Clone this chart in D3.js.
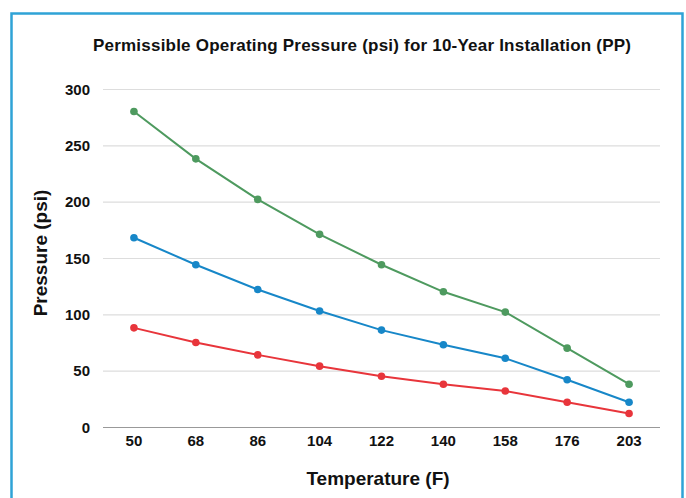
<!DOCTYPE html>
<html lang="en">
<head>
<meta charset="utf-8">
<title>Permissible Operating Pressure</title>
<script src="https://cdn.jsdelivr.net/npm/d3@7"></script>
<style>
  body { margin: 0; background: #fff; }
  svg text { font-family: "Liberation Sans", Arial, Helvetica, sans-serif; font-weight: bold; fill: #111; }
</style>
</head>
<body>
<svg id="chart" width="686" height="498"></svg>
<script>
// chart values
var temperatures = ['50', '68', '86', '104', '122', '140', '158', '176', '203'];
var greenSeries = [280, 238, 202, 171, 144, 120, 102, 70, 38];
var blueSeries = [168, 144, 122, 103, 86, 73, 61, 42, 22];
var redSeries = [88, 75, 64, 54, 45, 38, 32, 22, 12];
var yTicks = [0, 50, 100, 150, 200, 250, 300];

var series = [
  {values: greenSeries, color: '#4e9a5f'},
  {values: blueSeries, color: '#1787c8'},
  {values: redSeries, color: '#e8353b'}
];

var svg = d3.select('#chart');
// plot box (named so as not to clash with window.top)
var plotLeft = 103, plotRight = 660, plotTop = 89, plotBottom = 427;

// blue frame round the chart
svg.append('path')
  .attr('d', 'M11.5,500 V13.5 H682.5 V500')
  .attr('fill', 'none')
  .attr('stroke', '#2fa3d6')
  .attr('stroke-width', 2.5);

var x = d3.scaleBand().domain(temperatures).range([plotLeft, plotRight]);
var y = d3.scaleLinear().domain([0, 300]).range([plotBottom, plotTop]);

// gridlines
svg.append('g')
  .selectAll('line')
  .data(yTicks)
  .join('line')
  .attr('x1', plotLeft).attr('x2', plotRight)
  .attr('y1', function(d) { return y(d) + 0.5; })
  .attr('y2', function(d) { return y(d) + 0.5; })
  .attr('stroke', function(d) { return d === 0 ? '#999' : '#ddd'; })
  .attr('stroke-width', 1.2);

var yAxis = svg.append('g')
  .attr('transform', 'translate(' + (plotLeft - 13) + ',0)')
  .call(d3.axisLeft(y).tickValues(yTicks).tickSize(0).tickPadding(0));
yAxis.select('.domain').remove();
yAxis.selectAll('text').attr('font-size', 15).attr('dy', '0.35em');

var xAxis = svg.append('g')
  .attr('transform', 'translate(0,' + plotBottom + ')')
  .call(d3.axisBottom(x).tickSize(0).tickPadding(8));
xAxis.select('.domain').remove();
xAxis.selectAll('text').attr('font-size', 15).attr('dy', '0.71em');

svg.append('text')
  .attr('x', 362).attr('y', 51)
  .attr('text-anchor', 'middle')
  .attr('font-size', 17)
  .attr('textLength', 538)
  .text('Permissible Operating Pressure (psi) for 10-Year Installation (PP)');

svg.append('text')
  .attr('transform', 'translate(47,253) rotate(-90)')
  .attr('text-anchor', 'middle')
  .attr('font-size', 19)
  .text('Pressure (psi)');

svg.append('text')
  .attr('x', 378).attr('y', 485)
  .attr('text-anchor', 'middle')
  .attr('font-size', 19)
  .text('Temperature (F)');

var line = d3.line()
  .x(function(d, i) { return x(temperatures[i]) + x.bandwidth() / 2; })
  .y(function(d) { return y(d); });

series.forEach(function(s) {
  var g = svg.append('g');
  g.append('path')
    .attr('d', line(s.values))
    .attr('fill', 'none')
    .attr('stroke', s.color)
    .attr('stroke-width', 2);
  g.selectAll('circle')
    .data(s.values)
    .join('circle')
    .attr('cx', function(d, i) { return x(temperatures[i]) + x.bandwidth() / 2; })
    .attr('cy', function(d) { return y(d); })
    .attr('r', 3.8)
    .attr('fill', s.color);
});
</script>
</body>
</html>
